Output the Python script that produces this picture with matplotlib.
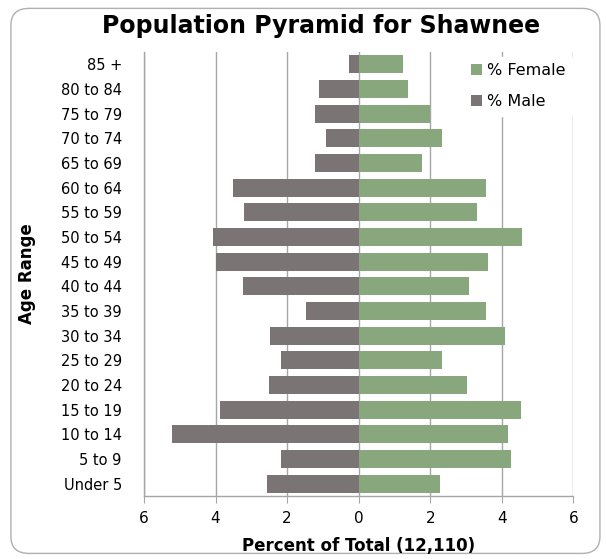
import matplotlib
matplotlib.use("Agg")
import matplotlib.pyplot as plt
from matplotlib.patches import FancyBboxPatch, Patch

# Age groups, bottom to top
age_groups = ["Under 5", "5 to 9", "10 to 14", "15 to 19", "20 to 24", "25 to 29",
              "30 to 34", "35 to 39", "40 to 44", "45 to 49", "50 to 54", "55 to 59",
              "60 to 64", "65 to 69", "70 to 74", "75 to 79", "80 to 84", "85 +"]

# Percent of total population
pct_male = [2.55, 2.18, 5.21, 3.87, 2.51, 2.16, 2.48, 1.48, 3.23, 4.00, 4.07, 3.20,
            3.50, 1.21, 0.90, 1.21, 1.12, 0.26]
pct_female = [2.28, 4.25, 4.18, 4.54, 3.02, 2.33, 4.10, 3.56, 3.08, 3.61, 4.57, 3.31,
              3.56, 1.77, 2.33, 2.00, 1.38, 1.23]

x_ticks = [-6, -4, -2, 0, 2, 4, 6]

female_color = "#89a77c"
male_color = "#7b7475"
grid_color = "#a6a6a6"

fig = plt.figure(figsize=(6.06, 5.59), dpi=100)
fig.patch.set_facecolor("white")

# rounded outer border
border = FancyBboxPatch((0.018, 0.01), 0.972, 0.975, boxstyle="round,pad=0,rounding_size=0.03",
                        transform=fig.transFigure, facecolor="none", edgecolor="#b0b0b0",
                        linewidth=1.0, zorder=-1)
fig.patches.append(border)

ax = fig.add_axes([0.2376, 0.1127, 0.7085, 0.7943])
ax.set_facecolor("none")

y = list(range(len(age_groups)))
ax.barh(y, [-v for v in pct_male], height=0.73, color=male_color, zorder=3)
ax.barh(y, pct_female, height=0.73, color=female_color, zorder=3)

ax.set_xlim(-6, 6)
ax.set_ylim(-0.5, len(age_groups) - 0.5)
ax.set_xticks(x_ticks)
ax.set_xticklabels([str(abs(t)) for t in x_ticks], fontsize=11)
ax.set_yticks(y)
ax.set_yticklabels(age_groups, fontsize=10.5)
ax.tick_params(axis="y", length=0, pad=16)
ax.tick_params(axis="x", length=5, color=grid_color, pad=6)

ax.grid(axis="x", color=grid_color, linewidth=1.0, zorder=0)
ax.set_axisbelow(True)
for side in ["top", "right"]:
    ax.spines[side].set_visible(False)
for side in ["left", "bottom"]:
    ax.spines[side].set_color(grid_color)
    ax.spines[side].set_linewidth(1.0)

ax.set_xlabel("Percent of Total (12,110)", fontsize=12, fontweight="bold", labelpad=8)
ax.set_ylabel("Age Range", fontsize=12, fontweight="bold", labelpad=18)

fig.text(0.53, 0.953, "Population Pyramid for Shawnee", fontsize=17, fontweight="bold",
         ha="center", va="center")

handles = [Patch(facecolor=female_color, label="% Female"),
           Patch(facecolor=male_color, label="% Male")]
leg = ax.legend(handles=handles, loc="upper left", bbox_to_anchor=(0.735, 1.0),
                fontsize=11.5, frameon=True, handlelength=0.7, handleheight=0.7,
                handletextpad=0.3, labelspacing=1.0, borderaxespad=0.3)
leg.get_frame().set_facecolor("white")
leg.get_frame().set_edgecolor("white")
leg.get_frame().set_alpha(1.0)
leg.set_zorder(5)

fig.savefig("out.png", dpi=100)
